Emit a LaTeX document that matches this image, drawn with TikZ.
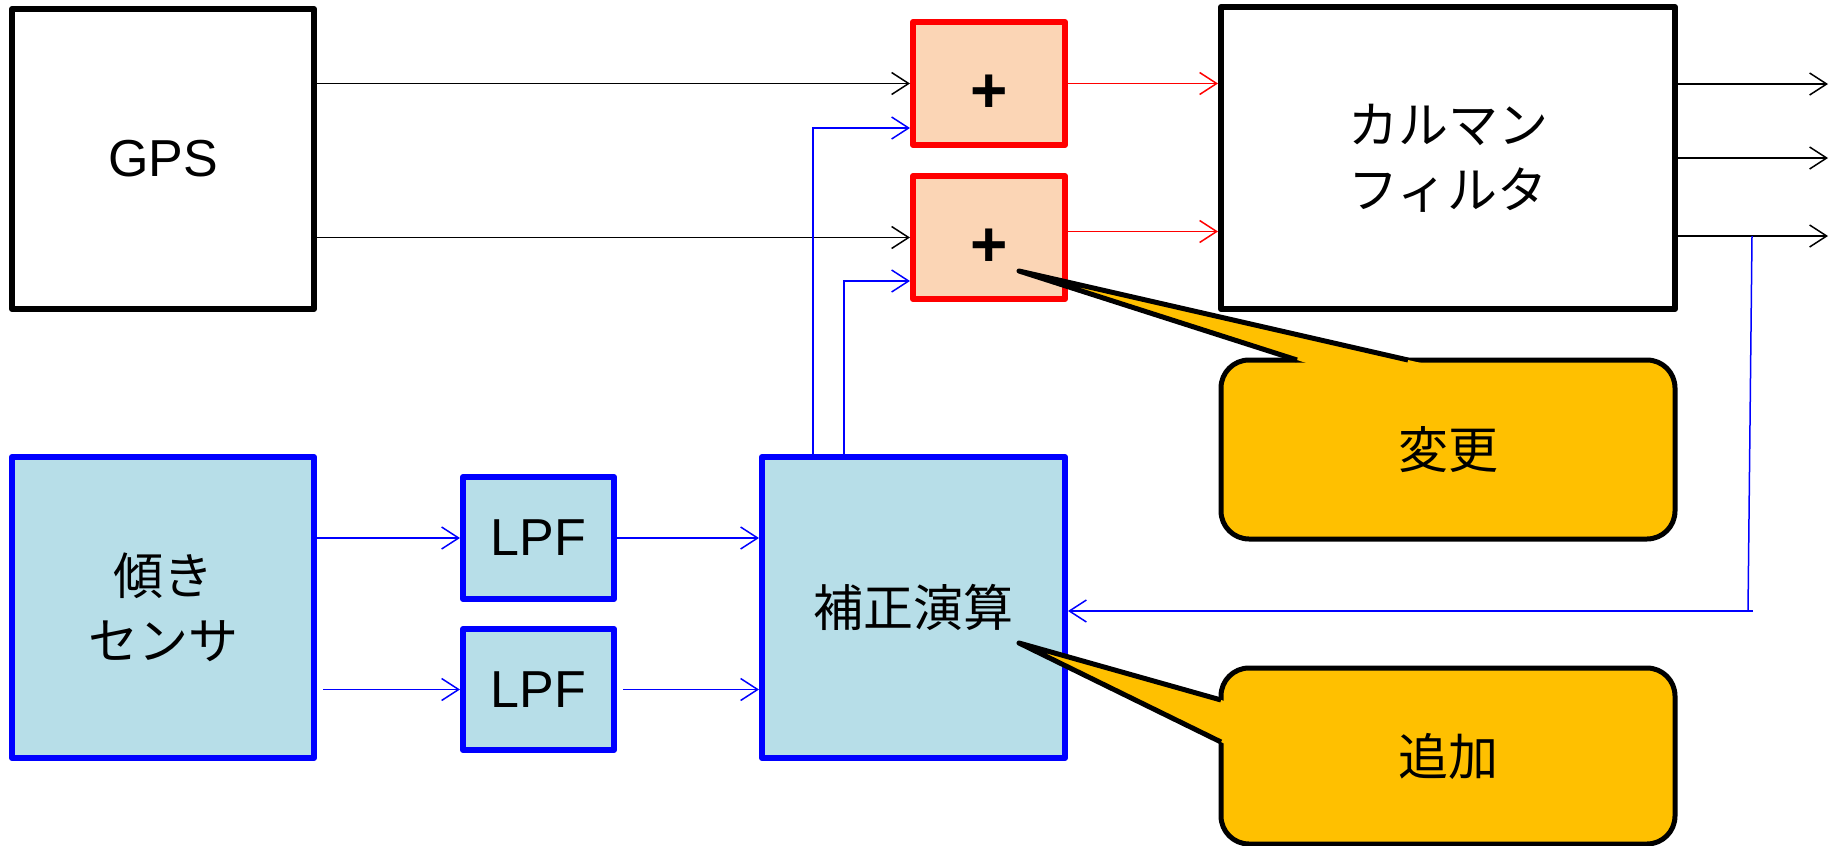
\documentclass[tikz,border=0pt]{standalone}
\usepackage{fontspec}
\setmainfont{Liberation Sans}
\newfontfamily\jp{Noto Sans CJK JP}
\usetikzlibrary{arrows.meta,calc}
\definecolor{peach}{HTML}{FBD5B5}
\definecolor{lblue}{HTML}{B7DEE8}
\definecolor{callc}{HTML}{FFC000}
\begin{document}
\begin{tikzpicture}[x=1pt,y=-1pt,
  every node/.style={inner sep=0pt, align=center},
  lat/.style={font=\fontsize{52}{62}\selectfont},
  plustext/.style={font=\bfseries\fontsize{64}{70}\selectfont, text height=57pt, text depth=0pt},
  jpt/.style={font=\jp\fontsize{50}{65}\selectfont},
  blkbox/.style={draw=black, fill=white, line width=6pt, line join=round},
  plusbox/.style={draw=red, fill=peach, line width=6pt, line join=round},
  blubox/.style={draw=blue, fill=lblue, line width=6pt, line join=round},
  callbox/.style={draw=black, fill=callc, line width=5pt, rounded corners=28pt},
  arr/.style={line width=1.5pt, -{Straight Barb[length=17pt,width=22pt]}},
  rarr/.style={arr, draw=red},
  barr/.style={arr, draw=blue},
  ptr/.style={draw=black, line width=5pt, line join=round},
]
\useasboundingbox (0,0) rectangle (1837,846);

% boxes
\node[blkbox, lat, minimum width=302pt, minimum height=300pt] (gps) at (163,159) {GPS};
\node[plusbox, plustext, minimum width=152pt, minimum height=123pt] (plus1) at (989,83.5) {+};
\node[plusbox, plustext, minimum width=152pt, minimum height=123pt] (plus2) at (989,237.5) {+};
\node[blkbox, jpt, minimum width=454pt, minimum height=302pt] (kal) at (1448,158) {カルマン\\フィルタ};
\node[blubox, jpt, minimum width=302pt, minimum height=301pt] (sensor) at (163,607.5) {傾き\\センサ};
\node[blubox, lat, minimum width=151pt, minimum height=122pt] (lpf1) at (538.5,538) {LPF};
\node[blubox, lat, minimum width=151pt, minimum height=121pt] (lpf2) at (538.5,689.5) {LPF};
\node[blubox, jpt, minimum width=303pt, minimum height=301pt] (hosei) at (913.5,607.5) {補正演算};

% coordinates
\coordinate (out1) at (1828,84);
\coordinate (out2) at (1828,158);
\coordinate (out3) at (1828,236);
\coordinate (u1) at (813,128);
\coordinate (u2) at (844,281);
\coordinate (fbt) at (1752,236);
\coordinate (fbb) at (1748,611);
\coordinate (r2) at ([yshift=6pt]plus2.east);

% connectors
\draw[arr] (gps.east |- plus1) -- (plus1.west);
\draw[arr] (gps.east |- plus2) -- (plus2.west);
\draw[rarr] (plus1.east) -- (kal.west |- plus1);
\draw[rarr] (r2) -- (kal.west |- r2);
\draw[arr] (kal.east |- out1) -- (out1);
\draw[arr] (kal.east |- out2) -- (out2);
\draw[arr] (kal.east |- out3) -- (out3);
\draw[barr] (hosei.north -| u1) |- (plus1.west |- u1);
\draw[barr] (hosei.north -| u2) |- (plus2.west |- u2);
\draw[blue, line width=1.5pt] (fbt) -- (fbb);
\draw[barr] ([xshift=5pt]fbb) -- (hosei.east |- fbb);
\draw[barr] (sensor.east |- lpf1) -- (lpf1.west);
\draw[barr] ([xshift=6pt]sensor.east |- lpf2) -- (lpf2.west);
\draw[barr] (lpf1.east) -- (hosei.west |- lpf1);
\draw[barr] ([xshift=6pt]lpf2.east) -- (hosei.west |- lpf2);

% callout 変更
\node[callbox, jpt, minimum width=454pt, minimum height=179pt] (henko) at (1448,449.5) {変更};
\coordinate (t1) at (1019,271);
\coordinate (a1) at (1297,360);
\coordinate (a2) at (1408,360);
\fill[callc] ($(t1)!1.06!(a1)$) -- (t1) -- ($(t1)!1.06!(a2)$) -- cycle;
\draw[ptr] (a1) -- (t1) -- (a2);

% callout 追加
\node[callbox, jpt, minimum width=454pt, minimum height=176pt] (tsuika) at (1448,756) {追加};
\coordinate (t2) at (1019,643);
\coordinate (c1) at (1221,700);
\coordinate (c2) at (1221,742);
\fill[callc] ($(t2)!1.06!(c1)$) -- (t2) -- ($(t2)!1.06!(c2)$) -- cycle;
\draw[ptr] (c1) -- (t2) -- (c2);
\end{tikzpicture}
\end{document}
